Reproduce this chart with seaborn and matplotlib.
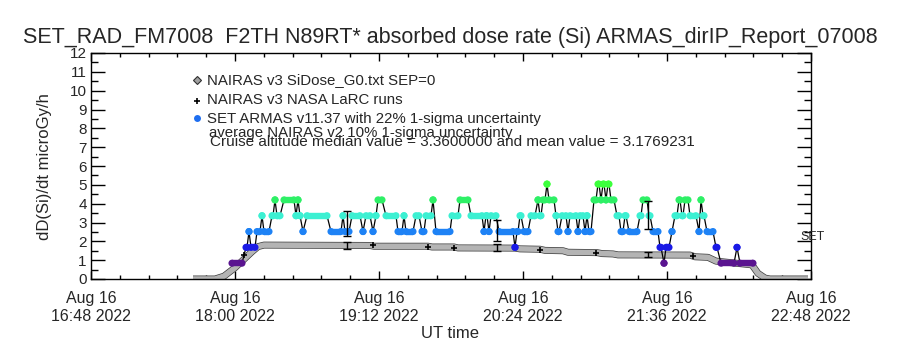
import matplotlib as mpl
mpl.use('Agg')
import matplotlib.pyplot as plt
import matplotlib.patheffects as pe
from matplotlib.lines import Line2D
from matplotlib.ticker import MultipleLocator, FuncFormatter
import seaborn as sns
import numpy as np
import pandas as pd

# x axis: minutes of day (UT), 2022-08-16
t_lo, t_hi = 1008, 1368

# SET ARMAS v11.37 runs: start / end minute and dose rate (microGy/h)
armas_start = [1078.5, 1085.5, 1087, 1088, 1091, 1093.5, 1094.5, 1098.5, 1100, 1101,
               1104.5, 1110.5, 1111.5, 1112.5, 1114, 1116, 1128, 1134, 1135, 1138.5,
               1144, 1145.5, 1149, 1150.5, 1151.5, 1155.5, 1161.5, 1164.5, 1165.5, 1170.5,
               1173.5, 1175.5, 1179, 1180.5, 1188.5, 1192.5, 1198, 1204.5, 1205.5, 1207,
               1208, 1212, 1220, 1221, 1222.5, 1224.5, 1228, 1231.5, 1232.5, 1234,
               1236, 1237, 1240.5, 1241.5, 1243.5, 1246.5, 1247.5, 1251.5, 1252.5, 1255,
               1256, 1257, 1259.5, 1261.5, 1263, 1264, 1265.5, 1266.5, 1268, 1271,
               1273, 1275, 1277, 1282.5, 1284, 1287, 1289, 1292.5, 1294.5, 1295.5,
               1298.5, 1300, 1302, 1303.5, 1305, 1307.5, 1312, 1313, 1314, 1316,
               1320.5, 1323, 1331, 1332.5]
armas_end = [1083.5, 1086, 1087, 1090, 1092.5, 1093.5, 1097, 1099, 1100, 1102.5,
             1109.5, 1110.5, 1111.5, 1112.5, 1114, 1126, 1133, 1134, 1137, 1142.5,
             1144, 1147.5, 1149, 1150.5, 1153.5, 1160.5, 1163.5, 1164.5, 1169, 1172,
             1174.5, 1178, 1179, 1187.5, 1191.5, 1196.5, 1203.5, 1204.5, 1206, 1207,
             1210.5, 1219, 1220, 1221.5, 1223, 1226.5, 1230, 1231.5, 1233, 1235,
             1236, 1239.5, 1240.5, 1242, 1245.5, 1246.5, 1250.5, 1251.5, 1254, 1255,
             1256, 1258, 1260.5, 1262, 1263, 1264.5, 1265.5, 1267, 1269.5, 1272,
             1274, 1275.5, 1281, 1283, 1286, 1287.5, 1291.5, 1293, 1294.5, 1297,
             1298.5, 1301, 1302.5, 1304, 1306.5, 1310.5, 1312, 1313, 1314.5, 1319,
             1321, 1329.5, 1331, 1339]
armas_dose = [0.84, 1.68, 2.52, 1.68, 2.52, 3.36, 2.52, 3.36, 4.20, 3.36,
              4.20, 3.36, 4.20, 3.36, 2.52, 3.36, 2.52, 3.36, 2.52, 3.36,
              2.52, 3.36, 2.52, 3.36, 4.20, 3.36, 2.52, 3.36, 2.52, 3.36,
              2.52, 3.36, 4.20, 2.52, 3.36, 4.20, 3.36, 2.52, 3.36, 2.52,
              3.36, 2.52, 1.68, 2.52, 3.36, 2.52, 3.36, 4.20, 3.36, 4.20,
              5.04, 4.20, 3.36, 2.52, 3.36, 2.52, 3.36, 2.52, 3.36, 2.52,
              3.36, 2.52, 4.20, 5.04, 4.20, 5.04, 4.20, 5.04, 4.20, 3.36,
              2.52, 3.36, 2.52, 3.36, 4.20, 3.36, 2.52, 1.68, 0.84, 1.68,
              2.52, 3.36, 4.20, 3.36, 4.20, 3.36, 2.52, 4.20, 3.36, 2.52,
              1.68, 0.84, 1.68, 0.84]

# NAIRAS v3 SiDose_G0 model curve
nairas_t = [1059, 1070, 1074.5, 1080, 1085, 1088.5, 1091.5, 1094.5,
            1147.5, 1149.5, 1176.5, 1178.5, 1189.5, 1191.5, 1220, 1222.5, 1232.5, 1235,
            1244, 1246.5, 1261, 1263.5, 1269, 1271.5, 1307.5, 1310, 1316.5, 1320.5,
            1338.5, 1341.5, 1345, 1347.5, 1366.5]
nairas_dose = [0, 0, 0.15, 0.6, 1.1, 1.45, 1.72, 1.80,
               1.78, 1.74, 1.74, 1.70, 1.70, 1.65, 1.64, 1.60, 1.58, 1.52,
               1.50, 1.42, 1.40, 1.35, 1.33, 1.28, 1.27, 1.18, 1.15, 0.95,
               0.75, 0.30, 0.05, 0, 0]

# NAIRAS v3 NASA LaRC runs
larc_t = [1084.5, 1148.8, 1176.5, 1189.5, 1232.5, 1260.5, 1308.8]
larc_dose = [1.30, 1.78, 1.72, 1.67, 1.55, 1.37, 1.23]

# uncertainty bars
err_t = [1136, 1211, 1286.5]
armas_mid = [2.94, 2.57, 3.41]
armas_half = [0.65, 0.57, 0.75]
nairas_mid = [1.79, 1.69, 1.28]
nairas_half = [0.18, 0.18, 0.13]

level_colors = {0.84: '#5a1490', 1.68: '#1a1ae6', 2.52: '#1e82f5',
                3.36: '#3cf0d2', 4.20: '#2ef066', 5.04: '#3cff3c'}

title = 'SET_RAD_FM7008  F2TH N89RT* absorbed dose rate (Si) ARMAS_dirIP_Report_07008'
legend_rows = ['NAIRAS v3 SiDose_G0.txt SEP=0',
               'NAIRAS v3 NASA LaRC runs',
               'SET ARMAS v11.37 with 22% 1-sigma uncertainty',
               'average NAIRAS v2 10% 1-sigma uncertainty',
               'Cruise altitude median value = 3.3600000 and mean value = 3.1769231']

sns.set_style('ticks')
plt.rcParams['font.family'] = ['Liberation Sans', 'DejaVu Sans']

fig = plt.figure(figsize=(9, 3.5), dpi=100)
ax = fig.add_axes([91/900, 71/350, 720/900, 226/350])

# model band
nairas = pd.DataFrame({'t': nairas_t, 'dose': nairas_dose})
sns.lineplot(data=nairas, x='t', y='dose', ax=ax, sort=False, estimator=None,
             color='#b4b4b4', lw=4.0, solid_capstyle='butt',
             path_effects=[pe.Stroke(linewidth=5.0, foreground='#3a3a3a'), pe.Normal()])
sns.scatterplot(x=larc_t, y=larc_dose, ax=ax, marker='+', color='k', s=22, linewidth=1.2, zorder=3)

# measurement connector line
px, py = [], []
for s, e, d in zip(armas_start, armas_end, armas_dose):
    px += [s, e]
    py += [d, d]
sns.lineplot(x=px, y=py, ax=ax, sort=False, estimator=None, color='k', lw=0.9, zorder=4)

# measurement dots
cols = [level_colors[d] for d in armas_dose]
ax.hlines(armas_dose, armas_start, armas_end, colors=cols, lw=4.6, zorder=5)
dots = pd.DataFrame({'t': armas_start + armas_end, 'dose': armas_dose + armas_dose})
sns.scatterplot(data=dots, x='t', y='dose', hue='dose', palette=level_colors, legend=False,
                s=26, linewidth=0, ax=ax, zorder=6)

ax.errorbar(err_t, armas_mid, yerr=armas_half, fmt='none', ecolor='k', elinewidth=1,
            capsize=3, capthick=1, zorder=7)
ax.errorbar(err_t, nairas_mid, yerr=nairas_half, fmt='none', ecolor='k', elinewidth=1,
            capsize=3, capthick=1, zorder=7)

ax.text(1362.5, 2.24, 'SET', fontsize=9, ha='left', va='center', clip_on=False)

ax.set_xlim(t_lo, t_hi)
ax.set_ylim(0, 12)
ax.set_xlabel('')
ax.set_ylabel('')
ax.xaxis.set_major_locator(MultipleLocator(72))
ax.xaxis.set_minor_locator(MultipleLocator(14.4))
ax.yaxis.set_major_locator(MultipleLocator(1))
ax.yaxis.set_minor_locator(MultipleLocator(0.5))


def fmt_time(v, pos):
    h, m = divmod(int(round(v)), 60)
    return 'Aug 16\n%02d:%02d 2022' % (h, m)


ax.xaxis.set_major_formatter(FuncFormatter(fmt_time))
ax.tick_params(which='both', direction='in', top=True, right=True, color='k', width=1)
ax.tick_params(axis='y', which='major', length=10, labelsize=11, pad=3)
ax.tick_params(axis='y', which='minor', length=5)
ax.tick_params(axis='x', which='major', length=6, labelsize=11.5, pad=9)
ax.tick_params(axis='x', which='minor', length=3)
for sp in ax.spines.values():
    sp.set_color('k')
    sp.set_linewidth(1)

fig.text(0.5, 1 - 37/350, title, ha='center', va='center', fontsize=15.5)
fig.text(45/900, 1 - 167/350, 'dD(Si)/dt microGy/h', rotation=90, ha='center', va='center', fontsize=12)
fig.text(0.5, 1 - 333/350, 'UT time', ha='center', va='center', fontsize=12)

# legend block
row_y = [80, 100, 119, 133, 142]
row_x = [207, 207, 207, 209, 210]
row_fs = [10.8, 10.8, 10.8, 10.8, 11]
for txt, x, y, fs in zip(legend_rows, row_x, row_y, row_fs):
    fig.text(x/900, 1 - y/350, txt, ha='left', va='center', fontsize=fs)
fig.add_artist(Line2D([197/900], [1 - 80/350], transform=fig.transFigure, marker='D', ms=4.5,
                      mfc='#a0a0a0', mec='#303030', mew=0.8, ls='none'))
fig.add_artist(Line2D([197/900], [1 - 101/350], transform=fig.transFigure, marker='+', ms=5,
                      color='k', mew=1.2, ls='none'))
fig.add_artist(Line2D([197/900], [1 - 118/350], transform=fig.transFigure, marker='o', ms=5,
                      mfc='#1e6ef0', mec='none', ls='none'))

fig.savefig('out.png', dpi=100)
